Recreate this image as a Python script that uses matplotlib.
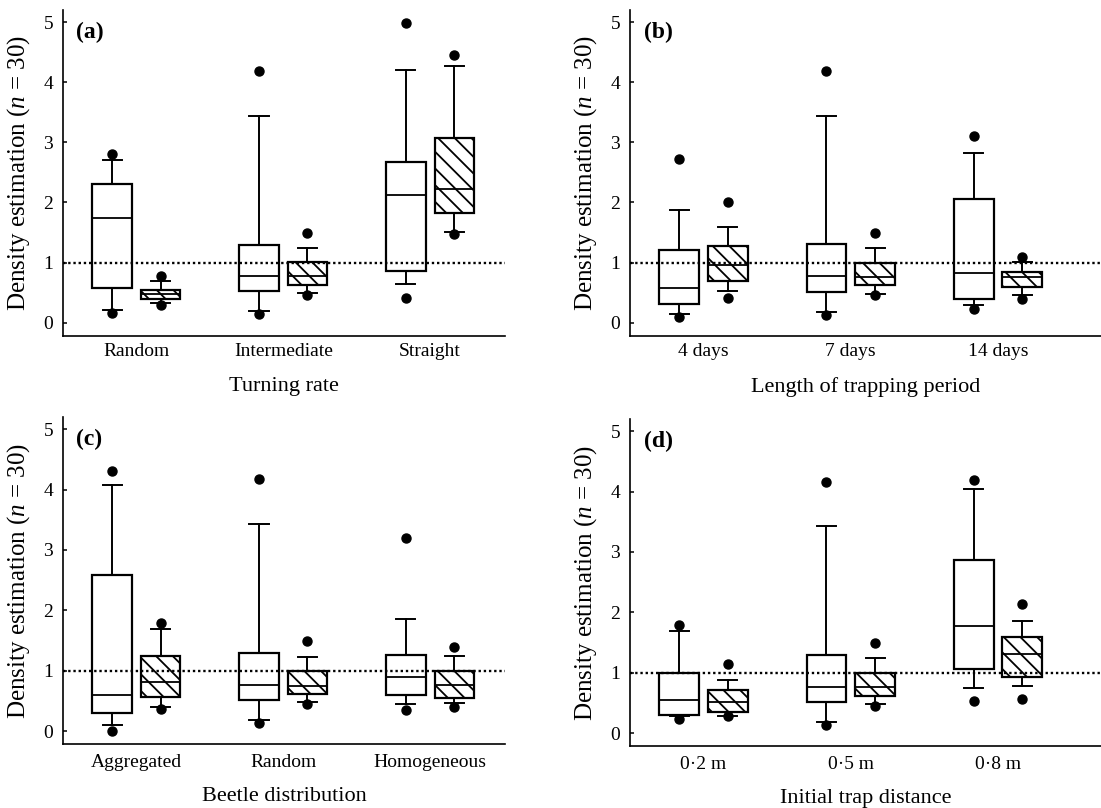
import matplotlib
matplotlib.use('Agg')
from matplotlib import pyplot as plt

plt.rcParams['font.family'] = 'Liberation Serif'
plt.rcParams['mathtext.fontset'] = 'custom'
plt.rcParams['mathtext.rm'] = 'Liberation Serif'
plt.rcParams['mathtext.it'] = 'Liberation Serif:italic'
plt.rcParams['hatch.linewidth'] = 1.3

# each row: whisker low, q1, median, q3, whisker high, low outlier, high outlier

# (a) Turning rate
a_labels = ['Random', 'Intermediate', 'Straight']
a_open = [
    [0.22, 0.575, 1.74, 2.30, 2.71, 0.17, 2.80],
    [0.19, 0.52, 0.78, 1.30, 3.44, 0.14, 4.18],
    [0.65, 0.86, 2.12, 2.67, 4.20, 0.41, 4.99],
]
a_hatch = [
    [0.33, 0.40, 0.47, 0.55, 0.69, 0.30, 0.78],
    [0.49, 0.62, 0.77, 1.01, 1.24, 0.46, 1.50],
    [1.51, 1.82, 2.23, 3.08, 4.27, 1.48, 4.46],
]

# (b) Length of trapping period
b_labels = ['4 days', '7 days', '14 days']
b_open = [
    [0.14, 0.32, 0.575, 1.21, 1.87, 0.09, 2.73],
    [0.18, 0.51, 0.77, 1.31, 3.44, 0.13, 4.18],
    [0.29, 0.40, 0.82, 2.05, 2.82, 0.23, 3.10],
]
b_hatch = [
    [0.52, 0.69, 0.96, 1.27, 1.60, 0.41, 2.01],
    [0.48, 0.62, 0.76, 1.00, 1.24, 0.46, 1.50],
    [0.46, 0.60, 0.76, 0.85, 1.01, 0.40, 1.10],
]

# (c) Beetle distribution
c_labels = ['Aggregated', 'Random', 'Homogeneous']
c_open = [
    [0.11, 0.30, 0.60, 2.585, 4.07, 0.01, 4.30],
    [0.18, 0.51, 0.76, 1.29, 3.43, 0.14, 4.17],
    [0.45, 0.60, 0.90, 1.27, 1.85, 0.35, 3.20],
]
c_hatch = [
    [0.41, 0.57, 0.81, 1.25, 1.69, 0.375, 1.80],
    [0.48, 0.61, 0.75, 0.99, 1.23, 0.45, 1.49],
    [0.47, 0.55, 0.77, 0.99, 1.25, 0.40, 1.40],
]

# (d) Initial trap distance
d_labels = ['0·2 m', '0·5 m', '0·8 m']
d_open = [
    [0.28, 0.30, 0.545, 1.00, 1.70, 0.24, 1.80],
    [0.18, 0.51, 0.77, 1.29, 3.43, 0.14, 4.16],
    [0.75, 1.07, 1.77, 2.87, 4.05, 0.54, 4.19],
]
d_hatch = [
    [0.29, 0.35, 0.51, 0.71, 0.89, 0.28, 1.15],
    [0.48, 0.62, 0.77, 0.99, 1.24, 0.45, 1.49],
    [0.79, 0.93, 1.32, 1.60, 1.86, 0.57, 2.14],
]


def to_stats(rows):
    stats = []
    for wlo, q1, med, q3, whi, flo, fhi in rows:
        stats.append(dict(whislo=wlo, q1=q1, med=med, q3=q3, whishi=whi,
                          fliers=[flo, fhi]))
    return stats


def draw_boxes(ax, rows, positions, hatch):
    ax.bxp(to_stats(rows), positions=positions, widths=0.27, capwidths=0.13,
           patch_artist=True, manage_ticks=False,
           boxprops=dict(facecolor='none', edgecolor='black', linewidth=1.6,
                         hatch=hatch),
           whiskerprops=dict(color='black', linewidth=1.4),
           capprops=dict(color='black', linewidth=1.4),
           medianprops=dict(color='black', linewidth=1.3),
           flierprops=dict(marker='o', markerfacecolor='black',
                           markeredgecolor='black', markersize=6.5))


def draw_panel(ax, letter, labels, open_rows, hatch_rows, xlabel, xmax, ymin, xpad):
    groups = [1, 2, 3]
    draw_boxes(ax, open_rows, [g - 0.165 for g in groups], None)
    draw_boxes(ax, hatch_rows, [g + 0.165 for g in groups], '\\\\')
    ax.axhline(1, color='black', linestyle=(0, (1, 1.2)), linewidth=1.7)

    ax.set_xlim(0.5, xmax)
    ax.set_ylim(ymin, 5.2)
    ax.set_xticks(groups)
    ax.set_xticklabels(labels)
    ax.set_yticks([0, 1, 2, 3, 4, 5])
    ax.tick_params(axis='x', length=0, pad=xpad, labelsize=14)
    ax.tick_params(axis='y', direction='in', length=3, width=1.1, pad=7,
                   labelsize=14)
    for side in ['top', 'right']:
        ax.spines[side].set_visible(False)
    for side in ['left', 'bottom']:
        ax.spines[side].set_linewidth(1.2)

    ax.set_xlabel(xlabel, fontsize=16, labelpad=12)
    ax.set_ylabel('Density estimation ($n$ = 30)', fontsize=18, labelpad=8)
    ax.text(0.03, 0.965, letter, transform=ax.transAxes, fontsize=17,
            fontweight='bold', va='top', ha='left')


fig = plt.figure(figsize=(11.01, 8.08), dpi=100)
W, H = 1101, 808

ax_a = fig.add_axes([63 / W, 1 - 336 / H, 442 / W, 326 / H])
ax_b = fig.add_axes([630 / W, 1 - 336 / H, 471 / W, 326 / H])
ax_c = fig.add_axes([63 / W, 1 - 744 / H, 442 / W, 327 / H])
ax_d = fig.add_axes([630 / W, 1 - 746 / H, 471 / W, 327 / H])

draw_panel(ax_a, '(a)', a_labels, a_open, a_hatch, 'Turning rate', 3.51, -0.22, 5)
draw_panel(ax_b, '(b)', b_labels, b_open, b_hatch, 'Length of trapping period', 3.70, -0.22, 5)
draw_panel(ax_c, '(c)', c_labels, c_open, c_hatch, 'Beetle distribution', 3.51, -0.21, 7)
draw_panel(ax_d, '(d)', d_labels, d_open, d_hatch, 'Initial trap distance', 3.70, -0.21, 7)

fig.savefig('out.png', dpi=100)
